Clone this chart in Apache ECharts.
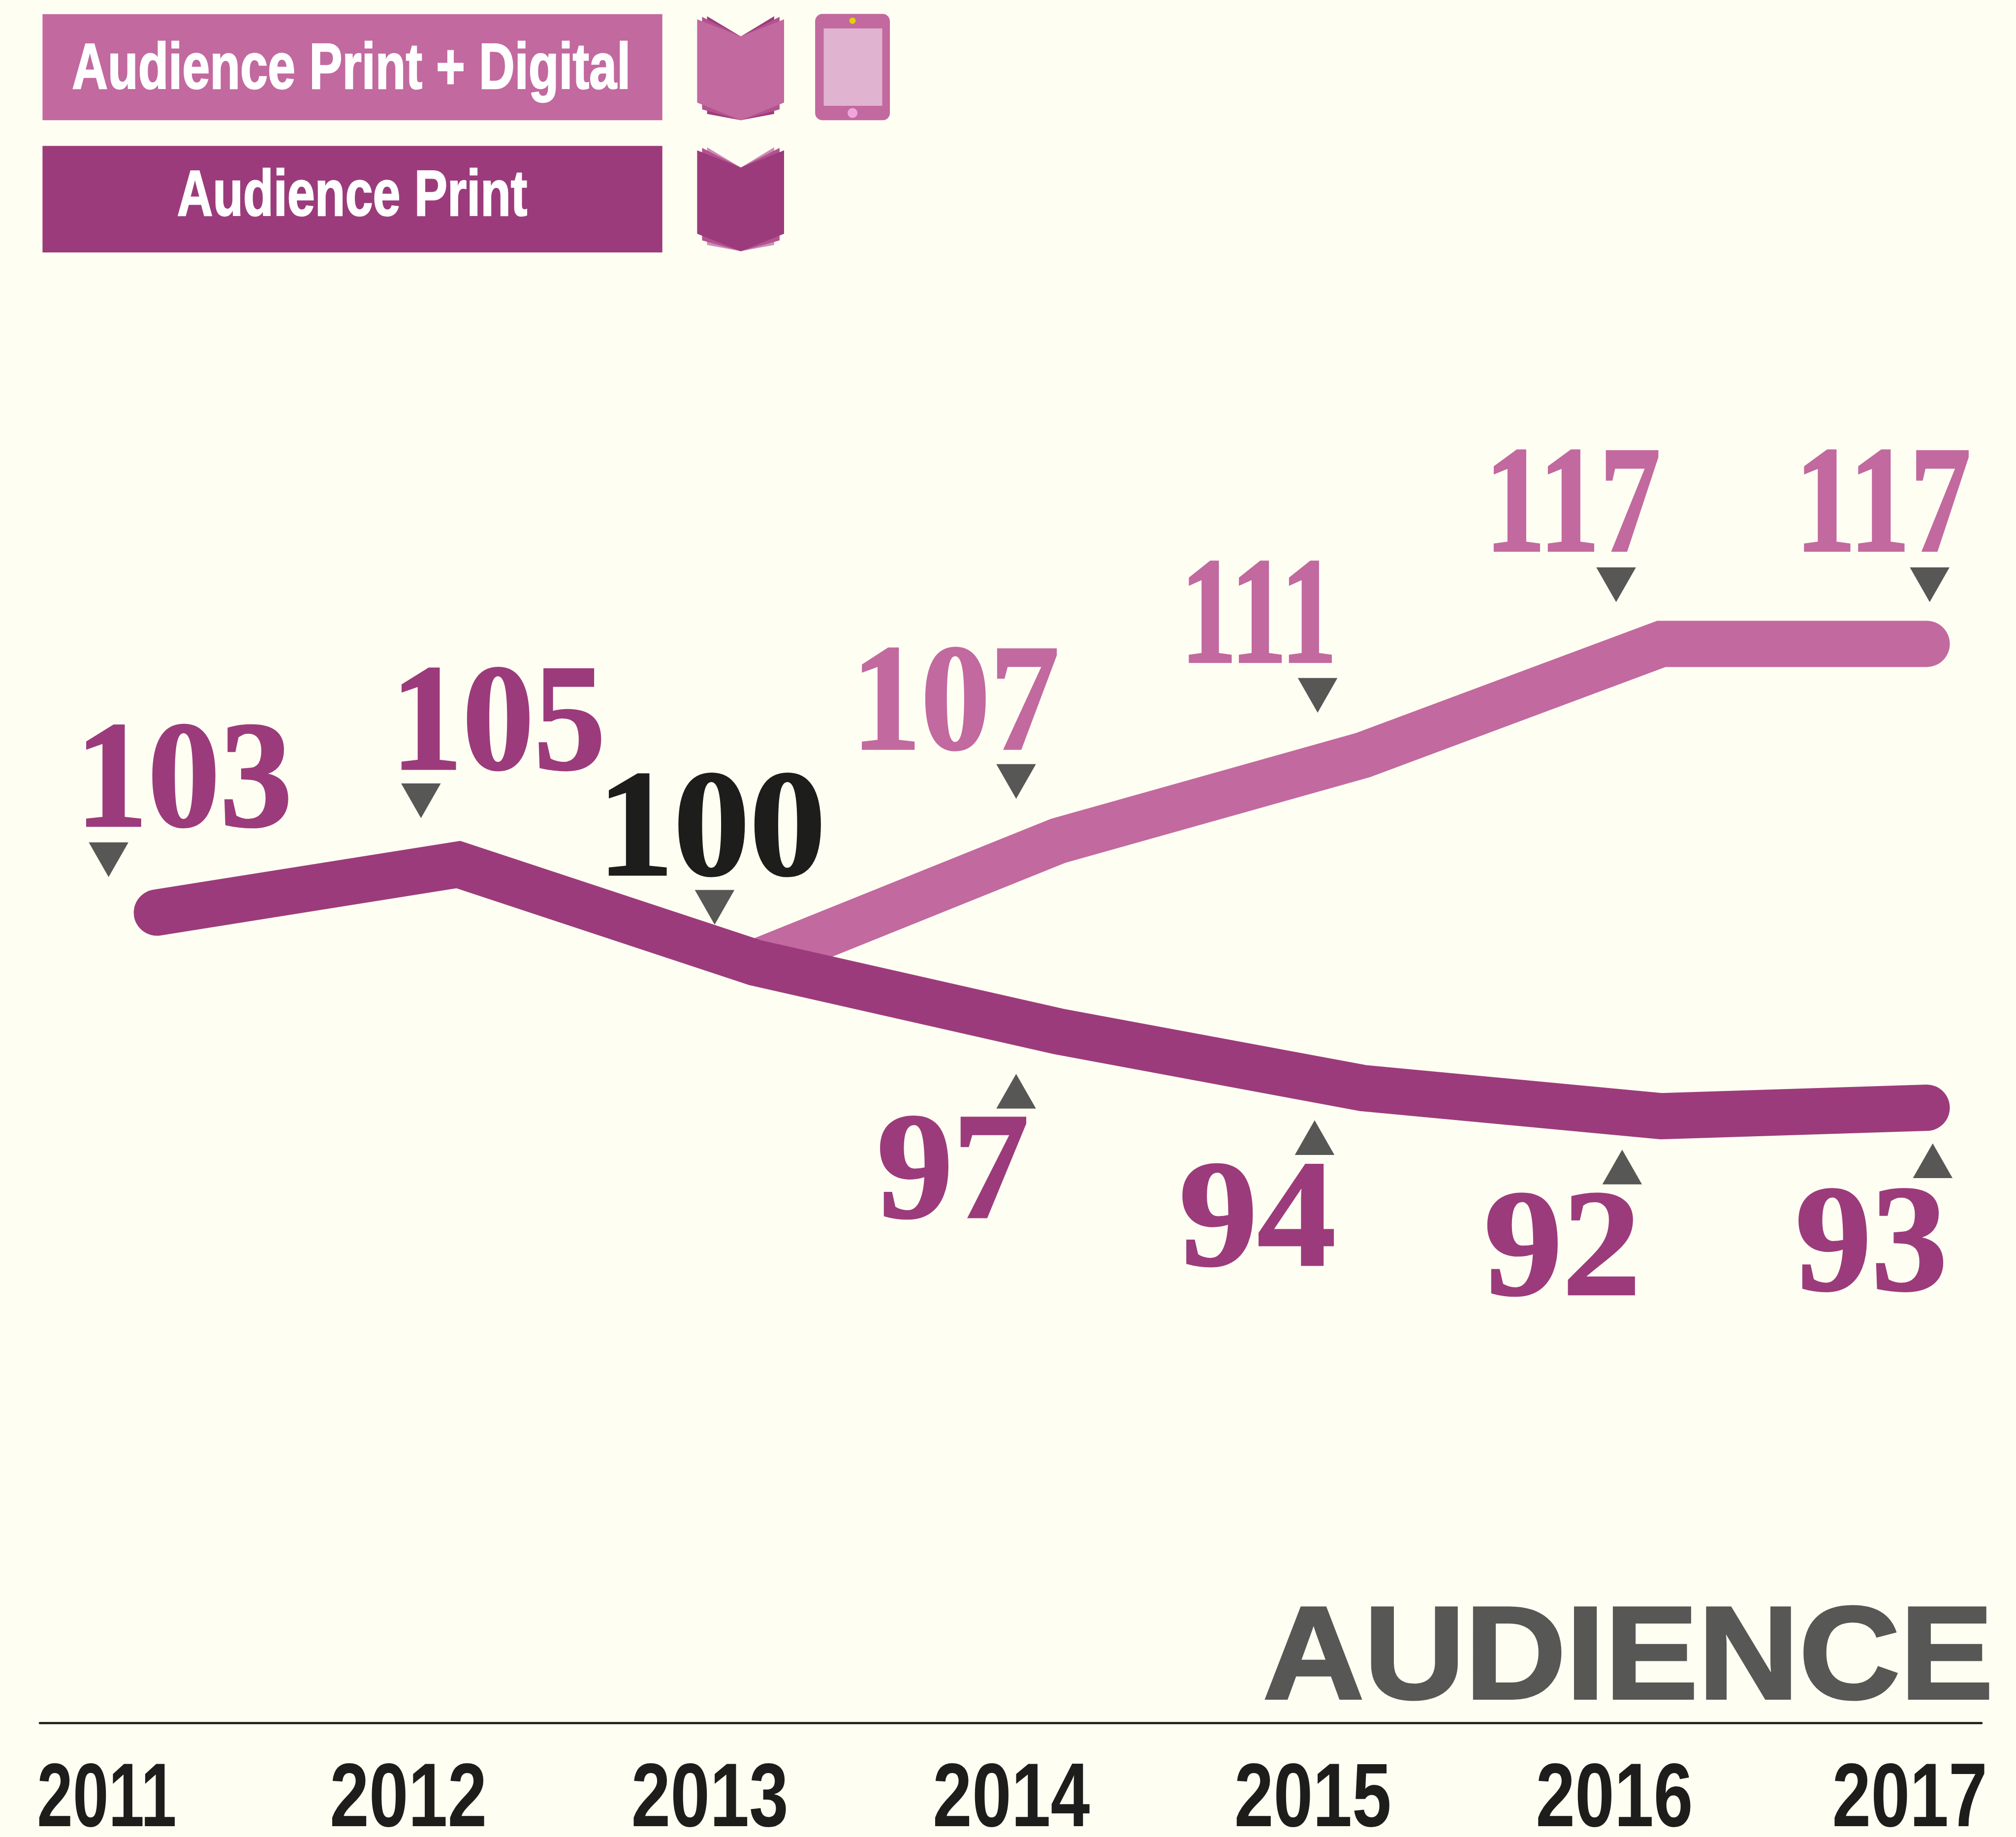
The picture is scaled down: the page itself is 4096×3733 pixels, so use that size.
<!DOCTYPE html>
<html><head><meta charset="utf-8">
<style>html,body{margin:0;padding:0;background:#FEFEF2}#c{width:4096px;height:3733px}</style>
<script src="https://cdn.jsdelivr.net/npm/echarts@6/dist/echarts.min.js"></script>
</head><body><div id="c"></div>
<script>
// ---------- data ----------
const yearLabels = ['2011','2012','2013','2014','2015','2016','2017'];
const xPositions = [2011, 2012, 2012.985, 2013.99, 2015, 2015.99, 2016.87];
const tickYears  = [2011, 2012, 2013, 2014, 2015, 2016, 2016.98];
// values as plotted in the picture
const printLine = [102.67, 105.23, 100, 96.34, 93.32, 91.82, 92.27];
const digitalLine = [null, null, 100, 106.5, 111.06, 116.99, 116.99];
// values as printed
const printLabels = ['103','105','100','97','94','92','93'];
const digitalLabels = [null,null,null,'107','111','117','117'];
// triangle markers
const downX = [2010.84, 2011.876, 2012.85, 2013.85, 2014.85, 2015.84, 2016.88];
const downY = [105.49, 108.63, 102.95, 109.66, 114.25, 120.14, 120.14];
const upX = [2013.85, 2014.84, 2015.86, 2016.89];
const upY = [93.15, 90.68, 89.11, 89.45];
const legendNames = ['Audience Print + Digital','Audience Print'];
const titleText = 'AUDIENCE';

// ---------- layout ----------
const K = 4096/1568, R = 0.915;
const DARK='#9C3B7B', LIGHT='#C2699F', GREY='#575755', BLACK='#1D1D1B', BG='#FEFEF2';
const SERIF='bold 309px "Liberation Serif"';
const LABEL_NUDGE = 7;
const printOffsets = [[21,-105],[31,-112],[-34,-106],[-82,107],[-82,100],[-77,101],[-43,104]];
const digitalOffsets = [null,null,null,[-80,-109],[-81,-110],[-69,-110],[-34,-110]];
const printScale = [0.95,0.94,1.0,1.0,1.03,1.03,1.0];
const digitalScale = [1,1,1,0.91,0.74,0.80,0.80];
const yearScale = [0.71,0.78,0.78,0.78,0.78,0.78,0.77];

const labelRows = [];
printLabels.forEach((t,i)=>labelRows.push({value:[xPositions[i],printLine[i]],text:t,off:printOffsets[i],sx:printScale[i],fill:t==='100'?BLACK:DARK}));
digitalLabels.forEach((t,i)=>{ if(t) labelRows.push({value:[xPositions[i],digitalLine[i]],text:t,off:digitalOffsets[i],sx:digitalScale[i],fill:LIGHT}); });

function pts(a){return a.map(p=>[p[0]*R,p[1]*R]);}
function book(dy,front,mid,back){
  const out=[];
  const layers=[[1570,1719,36,253,back],[1559,1731,37.5,243,mid],[1548,1741,43,228,front]];
  layers.forEach(l=>{
    out.push({type:'polygon',silent:true,shape:{points:pts([
      [l[0],l[2]+dy],[1645,81+dy],[l[1],l[2]+dy],[l[1],l[3]+dy],[1645,267+dy],[l[0],l[3]+dy]])},style:{fill:l[4]}});
  });
  return out;
}
const rr=(x0,y0,x1,y1)=>({x:x0*R,y:y0*R,width:(x1-x0)*R,height:(y1-y0)*R});
const LEG_FONT='bold 131px "Liberation Sans"';
const graphics=[
  {type:'rect',shape:rr(94.4,31.4,1470.7,267),style:{fill:LIGHT}},
  {type:'rect',shape:rr(94.4,324,1470.7,560.6),style:{fill:DARK}},
  {type:'text',x:780*R,y:143.5,scaleX:0.77,style:{text:legendNames[0],font:LEG_FONT,fill:'#fff',stroke:'#fff',lineWidth:2.5,align:'center',verticalAlign:'middle'}},
  {type:'text',x:782*R,y:401.5,scaleX:0.77,style:{text:legendNames[1],font:LEG_FONT,fill:'#fff',stroke:'#fff',lineWidth:2.5,align:'center',verticalAlign:'middle'}},
  ...book(0,LIGHT,'#B3528F',DARK),
  ...book(291,DARK,'#B3528F','#CE8DB8'),
  {type:'rect',shape:{...rr(1810,31,1976,267),r:16*R},style:{fill:LIGHT}},
  {type:'rect',shape:rr(1829,63,1959,235),style:{fill:'#E0B3D0'}},
  {type:'circle',shape:{cx:1893*R,cy:46*R,r:7*R},style:{fill:'#E3D400'}},
  {type:'circle',shape:{cx:1893*R,cy:251*R,r:11*R},style:{fill:'#EFA6DC'}},
  {type:'text',x:3308,y:3377.5,scaleX:1.06,style:{text:titleText,font:'bold 268px "Liberation Sans"',fill:GREY,stroke:GREY,lineWidth:5,align:'center',verticalAlign:'middle'}}
];

const chart=echarts.init(document.getElementById('c'),null,{renderer:'canvas'});
const tri=(xs,ys,rot)=>({type:'scatter',xAxisIndex:0,yAxisIndex:0,symbol:'triangle',symbolRotate:rot,symbolSize:[80.5,70.5],
  itemStyle:{color:GREY,opacity:1},z:5,data:xs.map((x,i)=>[x,ys[i]])});
chart.setOption({
  animation:false,
  backgroundColor:BG,
  grid:{left:81,top:0,width:3945,height:3501.3,containLabel:false,outerBoundsMode:'none'},
  xAxis:[
    {type:'value',show:false,min:2010.612,max:2017.052,splitLine:{show:false}},
    {type:'value',position:'bottom',min:2010.778,max:2017.218,splitLine:{show:false},
     axisLine:{show:true,onZero:false,lineStyle:{color:BLACK,width:4.6}},
     axisTick:{show:false},axisLabel:{show:false}}
  ],
  yAxis:{type:'value',show:false,min:59.486,max:151.30,splitLine:{show:false}},
  graphic:graphics,
  series:[
    {name:legendNames[0],type:'line',xAxisIndex:0,symbol:'none',z:2,connectNulls:false,
     lineStyle:{color:LIGHT,width:94,cap:'round',join:'miter',miterLimit:10},
     data:xPositions.map((x,i)=>[x,digitalLine[i]])},
    {name:legendNames[1],type:'line',xAxisIndex:0,symbol:'none',z:3,
     lineStyle:{color:DARK,width:94,cap:'round',join:'miter',miterLimit:10},
     data:xPositions.map((x,i)=>[x,printLine[i]])},
    tri(downX,downY,180),
    tri(upX,upY,0),
    {type:'custom',xAxisIndex:0,coordinateSystem:'cartesian2d',z:6,clip:false,silent:true,
     data:labelRows.map(r=>r.value),
     renderItem:(params,api)=>{
       const r=labelRows[params.dataIndex];
       const c=api.coord([api.value(0),api.value(1)]);
       return {type:'text',x:c[0]+r.off[0]*K,y:c[1]+(r.off[1]+LABEL_NUDGE)*K,scaleX:r.sx,
         style:{text:r.text,font:SERIF,fill:r.fill,stroke:r.fill,lineWidth:4,align:'center',verticalAlign:'middle'}};
     }},
    {type:'custom',xAxisIndex:1,coordinateSystem:'cartesian2d',z:6,clip:false,silent:true,
     data:tickYears.map(y=>[y,59.486]),
     renderItem:(params,api)=>{
       const i=params.dataIndex;
       const c=api.coord([api.value(0),api.value(1)]);
       return {type:'text',x:c[0],y:c[1]+159,scaleX:yearScale[i],
         style:{text:yearLabels[i],font:'bold 184px "Liberation Sans"',fill:BLACK,align:'center',verticalAlign:'middle'}};
     }}
  ]
});
</script></body></html>
